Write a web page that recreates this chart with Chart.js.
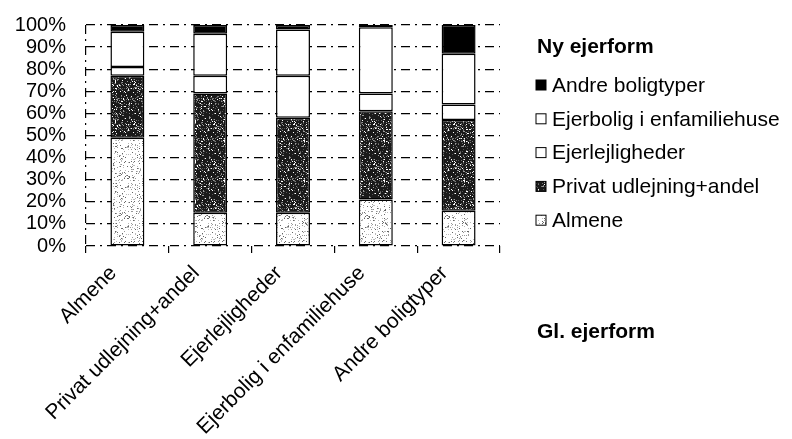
<!DOCTYPE html>
<html lang="da">
<head>
    <meta charset="UTF-8">
    <title>Ny ejerform / Gl. ejerform</title>
    <script src="https://cdn.jsdelivr.net/npm/chart.js"></script>
    <style>
        html, body { margin: 0; padding: 0; background: #fff; }
        #wrap { width: 792px; height: 439px; }
    </style>
</head>
<body>
<div id="wrap"><canvas id="chart"></canvas></div>
<script>
// Gammel ejerform (kategorier) og andel i % for ny ejerform
const categories = ['Almene', 'Privat udlejning+andel', 'Ejerlejligheder', 'Ejerbolig i enfamiliehuse', 'Andre boligtyper'];
const almene     = [49, 15, 15, 21, 16];
const privat     = [28, 54, 43, 40, 41];
const ejerlejl   = [4, 8, 19, 8, 7];
const ejerbolig  = [16, 19, 21, 30, 23];
const andre      = [3, 4, 2, 1, 13];
const yTicks     = [0, 10, 20, 30, 40, 50, 60, 70, 80, 90, 100];

const FONT = "'Liberation Sans', Arial, sans-serif";

// prikket fyld som i den scannede figur
function speckle(base, dots, count, seed) {
    const c = document.createElement('canvas');
    c.width = c.height = 40;
    const g = c.getContext('2d');
    g.fillStyle = base;
    g.fillRect(0, 0, 40, 40);
    let s = seed;
    const next = () => (s = (s * 16807) % 2147483647);
    for (let i = 0; i < count; i++) {
        const x = next() % 40, y = next() % 40;
        g.fillStyle = dots[next() % dots.length];
        g.fillRect(x, y, 1, 1);
    }
    return g.createPattern(c, 'repeat');
}

const fillAlmene = speckle('#ffffff', ['#999', '#bbb', '#666'], 260, 12345);
const fillPrivat = speckle('#1a1a1a', ['#777', '#999', '#fff', '#555'], 420, 67890);

const datasets = [
    { label: 'Almene', data: almene, backgroundColor: fillAlmene },
    { label: 'Privat udlejning+andel', data: privat, backgroundColor: fillPrivat },
    { label: 'Ejerlejligheder', data: ejerlejl, backgroundColor: '#ffffff' },
    { label: 'Ejerbolig i enfamiliehuse', data: ejerbolig, backgroundColor: '#ffffff' },
    { label: 'Andre boligtyper', data: andre, backgroundColor: '#000000' }
].map(d => Object.assign(d, {
    borderColor: '#000',
    borderWidth: 1.5,
    borderSkipped: false,
    barPercentage: 0.41,
    categoryPercentage: 1
}));

// egen legende til hoejre + titel for x-aksen
const sideText = {
    id: 'sideText',
    afterDraw(chart) {
        const ctx = chart.ctx;
        const x0 = 536;
        ctx.save();
        ctx.fillStyle = '#000';
        ctx.textBaseline = 'middle';
        ctx.textAlign = 'left';
        ctx.font = 'bold 21px ' + FONT;
        ctx.fillText('Ny ejerform', x0 + 1, 47);
        ctx.fillText('Gl. ejerform', x0 + 1, 332);
        ctx.font = '21px ' + FONT;
        const ds = chart.data.datasets.slice().reverse();
        ds.forEach((d, i) => {
            const y = 85 + i * 33.8;
            ctx.fillStyle = d.backgroundColor;
            ctx.fillRect(x0, y - 5, 10, 10);
            ctx.strokeStyle = '#000';
            ctx.lineWidth = 1;
            ctx.strokeRect(x0, y - 5, 10, 10);
            ctx.fillStyle = '#000';
            ctx.fillText(d.label, x0 + 16, y + 1);
        });
        ctx.restore();
    }
};

new Chart(document.getElementById('chart'), {
    type: 'bar',
    data: { labels: categories, datasets: datasets },
    options: {
        responsive: true,
        maintainAspectRatio: false,
        animation: false,
        layout: { padding: { left: 14, right: 292, top: 25, bottom: 0 } },
        plugins: {
            legend: { display: false },
            tooltip: { enabled: false }
        },
        scales: {
            x: {
                stacked: true,
                offset: true,
                afterFit: axis => {
                    axis.paddingLeft = 0;
                    axis.paddingRight = 0;
                    axis.height = 193;
                },
                grid: {
                    display: true,
                    drawOnChartArea: true,
                    offset: true,
                    color: c => c.index === 0 ? '#000' : 'rgba(0,0,0,0)',
                    tickColor: '#000',
                    tickLength: 7,
                    lineWidth: 1.2
                },
                border: { display: false, dash: [9, 5, 2, 5] },
                ticks: {
                    color: '#000',
                    font: { family: FONT, size: 21 },
                    minRotation: 45,
                    maxRotation: 45,
                    autoSkip: false,
                    labelOffset: -14,
                    padding: 8
                }
            },
            y: {
                stacked: true,
                min: 0,
                max: 100,
                afterBuildTicks: axis => { axis.ticks = yTicks.map(v => ({ value: v })); },
                afterFit: axis => {
                    axis.width = 72;
                    axis.paddingTop = 0;
                    axis.paddingBottom = 0;
                },
                grid: {
                    color: '#000',
                    lineWidth: 1.2,
                    drawTicks: false
                },
                border: { display: false, dash: [9, 5, 2, 5] },
                ticks: {
                    color: '#000',
                    font: { family: FONT, size: 20 },
                    padding: 20,
                    autoSkip: false,
                    callback: v => v + '%'
                }
            }
        }
    },
    plugins: [sideText]
});
</script>
</body>
</html>
